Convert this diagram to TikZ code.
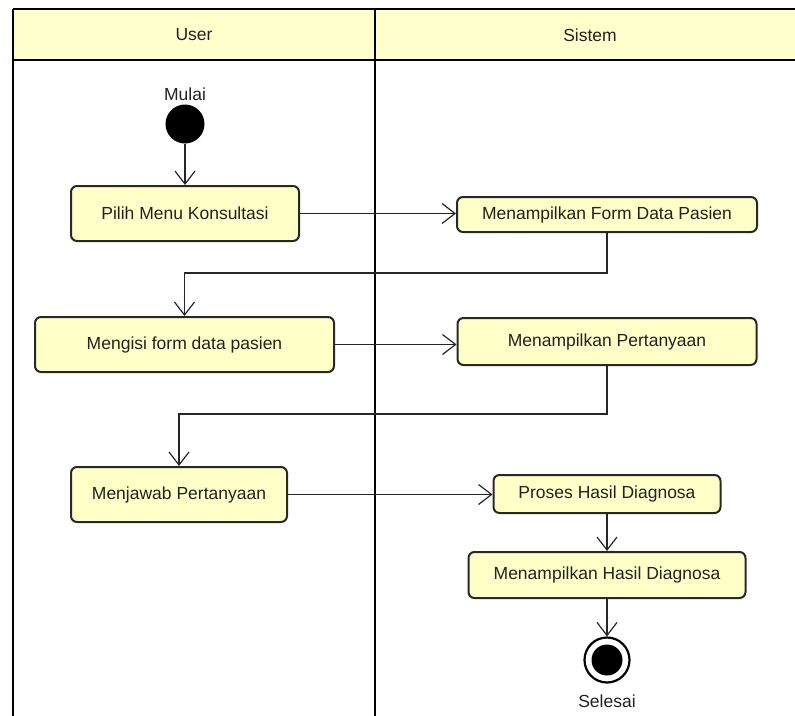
\documentclass[tikz,border=0pt]{standalone}
\usepackage{fontspec}
\setmainfont{Liberation Sans}
\usetikzlibrary{arrows.meta}
\definecolor{hdrfill}{RGB}{255,255,204}
\definecolor{boxfill}{RGB}{255,255,200}
\definecolor{boxline}{RGB}{40,40,40}
\definecolor{txt}{RGB}{34,34,34}
\tikzset{
  lane/.style={line width=2.4pt, draw=black},
  actbox/.style={draw=boxline, fill=boxfill, line width=2pt, rounded corners=6pt,
    inner sep=0pt, text=txt, font=\fontsize{17.5}{21}\selectfont},
  lbl/.style={inner sep=0pt, text=txt, font=\fontsize{17.5}{21}\selectfont},
  flow/.style={line width=1.2pt, draw=black!85, -{Straight Barb[length=13pt,width=20pt,line width=1.2pt]}},
}
\begin{document}
\begin{tikzpicture}[x=1pt,y=-1pt]
\useasboundingbox (0,0) rectangle (795,715);
% swimlanes
\fill[hdrfill] (13,9) rectangle (800,60);
\draw[lane] (13,9) -- (800,9);
\draw[lane] (13,60) -- (800,60);
\draw[lane] (13,9) -- (13,720);
\draw[lane] (375,9) -- (375,720);
\node[lbl] (user) at (194,35) {User};
\node[lbl] (sistem) at (590,35) {Sistem};
% start
\node[lbl] (mulai) at (185,94) {Mulai};
\node[circle, fill=black, minimum size=39pt, inner sep=0pt] (start) at (185,124) {};
% activities
\node[actbox, minimum width=228pt, minimum height=55pt] (b1) at (185,213.5) {Pilih Menu Konsultasi};
\node[actbox, minimum width=300pt, minimum height=35pt] (b2) at (607,214.5) {Menampilkan Form Data Pasien};
\node[actbox, minimum width=299pt, minimum height=55pt] (b3) at (184.5,344.5) {Mengisi form data pasien};
\node[actbox, minimum width=299pt, minimum height=47pt] (b4) at (607,341.5) {Menampilkan Pertanyaan};
\node[actbox, minimum width=216pt, minimum height=55pt] (b5) at (179,494.5) {Menjawab Pertanyaan};
\node[actbox, minimum width=227pt, minimum height=38pt] (b6) at (607,494) {Proses Hasil Diagnosa};
\node[actbox, minimum width=277pt, minimum height=46pt] (b7) at (607,575) {Menampilkan Hasil Diagnosa};
% end
\node[circle, draw=black, fill=white, line width=2.2pt, minimum size=45pt, inner sep=0pt] (end) at (607,660) {};
\fill[black] (end.center) circle (15.5pt);
\node[lbl] (selesai) at (607,701) {Selesai};
% flows
\draw[flow] (start) -- (b1.north);
\draw[flow] (b1.east) -- (b1.east -| b2.west);
\draw[flow] (b2.south) -- ++(0,40) -| (b3.north);
\draw[flow] (b3.east) -- (b3.east -| b4.west);
\draw[flow] (b4.south) -- ++(0,48) -| (b5.north);
\draw[flow] (b5.east) -- (b5.east -| b6.west);
\draw[flow] (b6.south) -- (b7.north);
\draw[flow] (b7.south) -- (end.north);
\end{tikzpicture}
\end{document}
